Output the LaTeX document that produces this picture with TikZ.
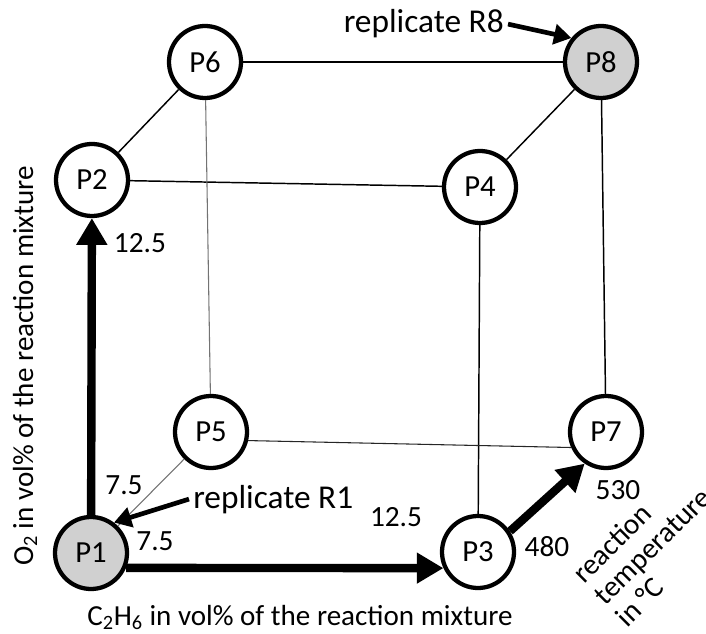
\documentclass[tikz,border=0pt]{standalone}
\usepackage{fontspec}
\setmainfont{Carlito}
\usetikzlibrary{arrows.meta}
\definecolor{repgray}{RGB}{208,208,208}
\begin{document}
\begin{tikzpicture}[x=0.75pt,y=-0.75pt,
  pnode/.style={circle,draw,line width=3.2pt,minimum size=54pt,inner sep=0pt,fill=white,font=\fontsize{23}{27}\selectfont},
  repnode/.style={pnode,fill=repgray},
  edge/.style={line width=1.1pt},
  faintedge/.style={line width=0.8pt,draw=black!55},
  bigarrow/.style={line width=6.3pt,-{Triangle[length=20pt,width=22pt]}},
  reparrow/.style={line width=3.5pt,-{Triangle[length=13pt,width=15pt]}},
  numlbl/.style={font=\fontsize{22}{26}\selectfont,inner sep=0pt},
  replbl/.style={font=\fontsize{25}{30}\selectfont,inner sep=3pt},
  axislbl/.style={font=\fontsize{21.8}{25}\selectfont,inner sep=0pt}
]
\useasboundingbox (0,0) rectangle (706,634);
% nodes
\node[repnode] (P1) at (91,553) {P1};
\node[pnode] (P2) at (92,180) {P2};
\node[pnode] (P3) at (478,552) {P3};
\node[pnode] (P4) at (480,187) {P4};
\node[pnode] (P5) at (211,432) {P5};
\node[pnode] (P6) at (205,62) {P6};
\node[pnode] (P7) at (606,432) {P7};
\node[repnode] (P8) at (601,62) {P8};
% cube edges
\draw[edge] (P6) -- (P8);
\draw[edge] (P6) -- (P2);
\draw[edge] (P2) -- (P4);
\draw[edge] (P8) -- (P4);
\draw[edge] (P4) -- (P3);
\draw[edge] (P8) -- (P7);
\draw[faintedge] (P6) -- (P5);
\draw[faintedge] (P5) -- (P1);
\draw[faintedge,draw=black!85] (P5.-13) -- (P7.204);
% factor arrows
\draw[bigarrow] (P1) -- (P2);
\draw[bigarrow] (P1.-23) -- (P3.205);
\draw[bigarrow] (P3.33) -- (P7.236);
% values
\node[numlbl] (v1) at (140,243) {12.5};
\node[numlbl] (v2) at (124,485) {7.5};
\node[numlbl] (v3) at (155,541) {7.5};
\node[numlbl] (v4) at (396,517) {12.5};
\node[numlbl] (v5) at (547,547) {480};
\node[numlbl] (v6) at (618,490) {530};
% replicates
\node[replbl,anchor=base west] (R1) at (189,508) {replicate R1};
\draw[reparrow] (R1.west) -- (P1.53);
\node[replbl,anchor=base east] (R8) at (508,33) {replicate R8};
\draw[reparrow] (R8.east) -- (P8.141);
% axis labels
\node[axislbl,anchor=base] (xl) at (300,625) {C\textsubscript{2}H\textsubscript{6} in vol\% of the reaction mixture};
\node[axislbl,anchor=base,rotate=90] (yl) at (33,366) {O\textsubscript{2} in vol\% of the reaction mixture};
\node[axislbl,rotate=45,align=left,font=\fontsize{22}{23}\selectfont] (zl) at (652,546) {reaction\\temperature\\in °C};
\end{tikzpicture}
\end{document}
